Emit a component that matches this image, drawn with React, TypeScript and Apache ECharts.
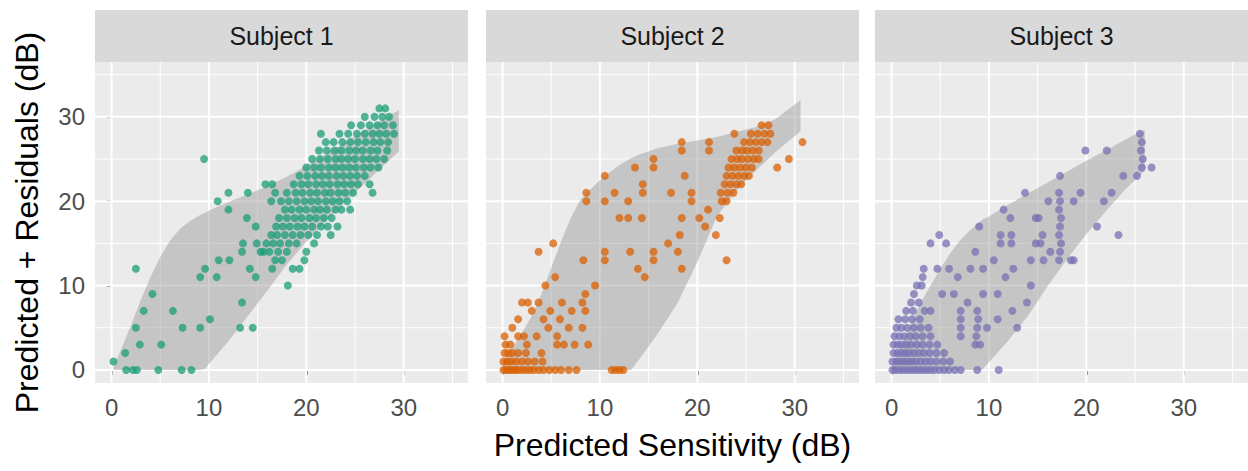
import React, { useEffect, useRef } from "react";
import * as echarts from "echarts";

// ---------- DATA ----------
const SUBJECTS = ["Subject 1", "Subject 2", "Subject 3"];
const COLORS = ["#1b9e77", "#d95f02", "#7570b3"];
const TICKS = [0, 10, 20, 30];
const MINOR_BREAKS = [5, 15, 25, 35];
const X_TITLE = "Predicted Sensitivity (dB)";
const Y_TITLE = "Predicted + Residuals (dB)";

// prediction band per subject: x, lower, upper
const BAND1_X = [0.2, 1, 2, 3, 4, 5, 6, 7, 8, 9, 9.6, 10, 12, 14, 16, 18, 20, 22, 24, 26, 28, 29.5];
const BAND1_HI = [0.3, 2.5, 5.3, 8.3, 11, 13.4, 15.3, 16.7, 17.6, 18.3, 18.6, 18.9, 19.9, 20.8, 21.8, 22.9, 24.2, 25.6, 27, 28.4, 29.8, 30.8];
const BAND1_LO = [0, 0, 0, 0, 0, 0, 0, 0, 0, 0, 0.1, 0.7, 3.4, 6.4, 9.4, 12.5, 15.2, 17.6, 19.9, 22.1, 24.3, 25.9];

const BAND2_X = [0, 1, 2, 3, 4, 5, 6, 7, 8, 10, 12, 13.2, 14, 16, 18, 20, 22, 24, 26, 28, 30.6];
const BAND2_HI = [1.0, 2.6, 4.4, 6.4, 9.0, 12.1, 15.2, 18.0, 20.2, 22.5, 24.3, 25.1, 25.5, 26.3, 26.8, 27.2, 27.6, 28.2, 28.8, 29.7, 32.0];
const BAND2_LO = [0, 0, 0, 0, 0, 0, 0, 0, 0, 0, 0, 0, 1.2, 4.4, 8.0, 12.8, 18.2, 21.2, 23.6, 25.8, 28.3];

const BAND3_X = [0, 1, 2, 3, 4, 5, 6, 7, 8, 9.3, 10, 12, 14, 16, 18, 20, 22, 24, 26];
const BAND3_HI = [0.5, 3, 5.5, 8, 10, 12, 13.8, 15.3, 16.5, 17.8, 18.2, 19.6, 20.9, 22.2, 23.5, 24.8, 26.0, 27.3, 28.5];
const BAND3_LO = [0, 0, 0, 0, 0, 0, 0, 0, 0, 0, 0.9, 3.5, 6.4, 9.9, 13.1, 16.1, 18.8, 21.4, 23.6];

const S1_POINTS = [
  [0.2, 1], [1.4, 2], [1.5, 0], [2.2, 0], [2.6, 0], [4.8, 0], [7.2, 0], [8.2, 0], [2.9, 3], [5.1, 3],
  [2.5, 5], [7.3, 5], [9.1, 5], [10.1, 6], [3.3, 7], [6.3, 7], [4.2, 9], [2.5, 12],
  [13.2, 5], [14.5, 5], [13.4, 8], [9.1, 11], [9.6, 12], [10.8, 11], [11, 13], [12.1, 13], [13.4, 14],
  [14.2, 12], [14.8, 11], [13.5, 15], [14.9, 15], [15.3, 14], [18.1, 10], [18.6, 12], [20, 14],
  [10.9, 20], [12, 21], [12, 19], [14, 21], [13.9, 18], [14.8, 17], [15.8, 22], [9.5, 25],
  [21.5, 28], [28.3, 26], [27.5, 31], [28.9, 29],
  [16.5, 12], [19.3, 12],
  [16.8, 13], [17.5, 13], [19.8, 13],
  [15.6, 14], [16.2, 14], [17.1, 14], [18.0, 14],
  [15.9, 15], [16.6, 15], [17.3, 15], [18.2, 15], [19.0, 15], [20.8, 15],
  [16.4, 16], [17.0, 16], [17.8, 16], [18.6, 16], [19.4, 16], [20.2, 16], [21.1, 16], [22.5, 16],
  [16.9, 17], [17.6, 17], [18.3, 17], [19.1, 17], [19.8, 17], [20.6, 17], [21.5, 17], [22.2, 17], [23.2, 17],
  [17.2, 18], [18.0, 18], [18.8, 18], [19.5, 18], [20.3, 18], [21.0, 18], [21.8, 18], [22.6, 18],
  [17.8, 19], [18.5, 19], [19.3, 19], [20.0, 19], [20.8, 19], [21.4, 19], [22.1, 19], [23.0, 19], [23.6, 19], [24.5, 19],
  [16.4, 20], [17.4, 20], [18.2, 20], [19.0, 20], [19.8, 20], [20.5, 20], [21.2, 20], [22.0, 20], [22.7, 20], [23.4, 20], [24.2, 20],
  [16.8, 21], [18.0, 21], [18.9, 21], [19.6, 21], [20.4, 21], [21.1, 21], [21.9, 21], [22.5, 21], [23.3, 21], [24.0, 21], [24.8, 21], [26.8, 21],
  [16.5, 22], [18.7, 22], [19.5, 22], [20.2, 22], [21.0, 22], [21.7, 22], [22.4, 22], [23.2, 22], [23.9, 22], [24.6, 22], [25.3, 22], [26.5, 22],
  [19.3, 23], [20.1, 23], [20.9, 23], [21.6, 23], [22.3, 23], [23.1, 23], [23.8, 23], [24.5, 23], [25.2, 23], [26.0, 23],
  [20.0, 24], [20.8, 24], [21.5, 24], [22.3, 24], [23.0, 24], [23.7, 24], [24.4, 24], [25.1, 24], [25.9, 24], [26.6, 24], [27.4, 24],
  [20.6, 25], [21.4, 25], [22.2, 25], [23.0, 25], [23.6, 25], [24.3, 25], [25.0, 25], [25.8, 25], [26.5, 25], [27.2, 25], [28.0, 25],
  [21.3, 26], [22.1, 26], [22.9, 26], [23.6, 26], [24.4, 26], [25.1, 26], [25.8, 26], [26.6, 26], [27.3, 26],
  [22.0, 27], [22.8, 27], [23.7, 27], [24.5, 27], [25.3, 27], [26.1, 27], [26.9, 27], [27.6, 27], [28.4, 27],
  [23.4, 28], [24.3, 28], [25.2, 28], [26.0, 28], [26.8, 28], [27.5, 28], [28.2, 28], [29.0, 28],
  [24.6, 29], [25.6, 29], [26.5, 29], [27.3, 29], [28.0, 29],
  [26.0, 30], [27.0, 30], [27.8, 30], [28.5, 30],
  [28.1, 31],
];

const S2_POINTS = [
  [30.8, 27], [29.4, 25], [28.2, 24], [23, 13], [23.8, 28], [3.7, 14], [5.2, 15], [10.5, 23], [8.6, 21], [8.6, 20],
  [10.5, 20], [11.5, 21], [12.9, 20], [13.6, 24], [15.5, 25], [15.5, 24], [18.4, 27], [18.4, 26], [21.2, 27], [21.2, 26],
  [18.7, 23], [14.4, 22], [14.4, 21], [17.3, 21], [19.4, 21], [19.4, 20], [12, 18], [12.9, 18], [14.3, 18], [18.4, 18],
  [20.2, 18], [22.3, 18], [18.2, 16], [21.1, 19], [20.8, 17], [21.9, 16], [17, 15], [18, 14], [18.4, 12], [15.5, 14],
  [15.5, 13], [13.1, 14], [13.9, 12], [14.6, 11], [10.5, 14], [10.5, 13], [8.3, 13], [9.5, 10],
  [5.4, 11], [4.4, 10], [8.5, 9], [8.2, 8], [2, 8], [2.6, 8], [3.7, 8], [6.1, 8], [3.0, 7], [4.9, 7], [7.1, 7], [8.5, 7],
  [1.6, 6], [4.2, 6], [5.9, 6], [1.0, 5], [4.7, 5], [6.8, 5], [8.2, 5], [1.6, 4], [2.2, 4], [3.5, 4], [5.6, 4],
  [0.3, 3], [2.5, 3], [5.6, 3], [6.3, 3], [7.4, 3], [8.8, 3], [1, 2], [4.0, 2], [2, 1],
  [0.1, 0], [0.4, 0], [0.7, 0], [1.0, 0], [1.3, 0], [1.6, 0], [2.0, 0], [2.4, 0], [2.8, 0], [3.2, 0], [3.7, 0],
  [4.2, 0], [4.8, 0], [5.4, 0], [6.0, 0], [6.8, 0], [7.6, 0], [11.2, 0], [11.6, 0], [12.0, 0], [12.4, 0],
  [0.1, 1], [0.5, 1], [0.9, 1], [1.4, 1], [2.6, 1], [3.3, 1], [4.1, 1],
  [0.2, 2], [0.6, 2], [1.6, 2], [2.4, 2], [0.8, 3], [0.2, 4],
  [22.5, 20], [23.0, 20],
  [22.4, 21], [23.1, 21], [23.7, 21],
  [22.8, 22], [23.4, 22], [24.0, 22], [24.5, 22],
  [23.0, 23], [23.6, 23], [24.2, 23], [24.8, 23], [25.3, 23],
  [23.2, 24], [23.8, 24], [24.4, 24], [25.0, 24], [25.6, 24],
  [23.5, 25], [24.1, 25], [24.6, 25], [25.2, 25], [25.8, 25], [26.3, 25],
  [24.0, 26], [24.6, 26], [25.1, 26], [25.7, 26], [26.3, 26],
  [24.8, 27], [25.4, 27], [26.0, 27], [26.6, 27], [27.2, 27],
  [25.5, 28], [26.2, 28], [26.9, 28], [27.5, 28],
  [26.6, 29], [27.3, 29],
];

const S3_POINTS = [
  [25.5, 28], [25.7, 27], [25.6, 26], [25.8, 25], [25.7, 24], [26.7, 24], [25.2, 23], [23.8, 23],
  [19.9, 26], [22.1, 26], [17.3, 23], [19.4, 21], [22.6, 21], [21.8, 20], [13.7, 21], [16.1, 20], [18.7, 20],
  [21.1, 17], [23.3, 16], [18.7, 13], [18.4, 13], [16.3, 14],
  [17.2, 21], [17.3, 20], [17.2, 19], [17.4, 18], [17.3, 17], [17.2, 16], [17.4, 15], [17.3, 14], [17.2, 13],
  [11.2, 16], [12.3, 16], [11.2, 15], [12.3, 15], [11.5, 19], [12.2, 18], [15.1, 18], [15.3, 15], [15.6, 13],
  [14.3, 13], [12.5, 12], [10.5, 13], [9.0, 17], [8.6, 14], [14.3, 10], [14.8, 18], [15.5, 16], [14.8, 15],
  [4.9, 16], [4.0, 15], [5.6, 15], [8.1, 12], [6.8, 11], [4.7, 12], [5.9, 12], [9.4, 12], [11.7, 11],
  [13.9, 8], [12.9, 5], [10.9, 9], [9.4, 9], [7.8, 8], [6.4, 9], [5.2, 9], [4.0, 7], [7.1, 7], [8.8, 7],
  [10.9, 6], [12.4, 7], [9.8, 5], [9.1, 3], [7.1, 6], [7.1, 4], [7.1, 5], [8.6, 3], [8.7, 4], [8.8, 5], [8.9, 6],
  [8.8, 0], [11.0, 0], [1.5, 7], [2.3, 9], [3.2, 11], [3.3, 12],
  [0.1, 0], [0.4, 0], [0.8, 0], [1.2, 0], [1.6, 0], [2.0, 0], [2.4, 0], [2.8, 0], [3.2, 0], [3.6, 0], [4.0, 0],
  [4.4, 0], [4.9, 0], [5.4, 0], [5.9, 0], [6.5, 0], [7.1, 0],
  [0.1, 1], [0.5, 1], [0.9, 1], [1.3, 1], [1.7, 1], [2.1, 1], [2.5, 1], [3.0, 1], [3.5, 1], [4.0, 1], [4.6, 1], [5.3, 1], [6.0, 1],
  [0.2, 2], [0.6, 2], [1.0, 2], [1.4, 2], [1.8, 2], [2.3, 2], [2.8, 2], [3.3, 2], [3.9, 2], [4.6, 2], [5.4, 2],
  [0.2, 3], [0.6, 3], [1.0, 3], [1.5, 3], [2.0, 3], [2.6, 3], [3.2, 3], [3.9, 3], [4.7, 3],
  [0.3, 4], [0.8, 4], [1.3, 4], [1.9, 4], [2.5, 4], [3.2, 4], [4.0, 4],
  [0.5, 5], [1.0, 5], [1.6, 5], [2.3, 5], [3.0, 5], [3.8, 5],
  [0.7, 6], [1.4, 6], [2.1, 6], [2.9, 6],
  [2.2, 7], [3.4, 7], [2.0, 8], [2.8, 8], [2.6, 10], [3.1, 10],
];

// ---------- LAYOUT ----------
const PANEL_LEFT = [95, 486, 875];
const PANEL_TOP = 62;
const PANEL_W = 373;
const PANEL_H = 321;
const STRIP_TOP = 10;
const X_MIN = -1.7, X_MAX = 36.6, Y_MIN = -1.55, Y_MAX = 36.5;
const FONT = "'Liberation Sans', Arial, Helvetica, sans-serif";

const BANDS = [
  { x: BAND1_X, lo: BAND1_LO, hi: BAND1_HI },
  { x: BAND2_X, lo: BAND2_LO, hi: BAND2_HI },
  { x: BAND3_X, lo: BAND3_LO, hi: BAND3_HI },
];
const POINTS = [S1_POINTS, S2_POINTS, S3_POINTS];

function backgroundSeries(i: number) {
  const band = BANDS[i];
  return {
    type: "custom",
    xAxisIndex: i,
    yAxisIndex: i,
    silent: true,
    z: 1,
    data: [[0, 0]],
    renderItem: (params: any, api: any) => {
      const cs = params.coordSys;
      const children: any[] = [];
      const vline = (v: number, w: number) => {
        const p = api.coord([v, 0]);
        children.push({ type: "line", shape: { x1: p[0], y1: cs.y, x2: p[0], y2: cs.y + cs.height }, style: { stroke: "#ffffff", lineWidth: w } });
      };
      const hline = (v: number, w: number) => {
        const p = api.coord([0, v]);
        children.push({ type: "line", shape: { x1: cs.x, y1: p[1], x2: cs.x + cs.width, y2: p[1] }, style: { stroke: "#ffffff", lineWidth: w } });
      };
      MINOR_BREAKS.forEach((v) => { vline(v, 1); hline(v, 1); });
      TICKS.forEach((v) => { vline(v, 2); hline(v, 2); });
      const pts: number[][] = [];
      band.x.forEach((x, k) => pts.push(api.coord([x, band.hi[k]])));
      for (let k = band.x.length - 1; k >= 0; k--) pts.push(api.coord([band.x[k], band.lo[k]]));
      children.push({ type: "polygon", shape: { points: pts }, style: { fill: "rgba(150,150,150,0.45)" } });
      return { type: "group", children };
    },
  };
}

export default function App() {
  const ref = useRef<HTMLDivElement>(null);
  useEffect(() => {
    if (!ref.current) return;
    const chart = echarts.init(ref.current, null, { renderer: "svg" });
    const grids = PANEL_LEFT.map((l) => ({
      left: l, top: PANEL_TOP, width: PANEL_W, height: PANEL_H,
      show: true, backgroundColor: "#ebebeb", borderWidth: 0, containLabel: false,
    }));
    const xAxes = PANEL_LEFT.map((_, i) => ({
      type: "value", gridIndex: i, min: X_MIN, max: X_MAX,
      axisLine: { show: false },
      axisTick: { show: true, customValues: TICKS, length: 5, lineStyle: { color: "#333333", width: 1.5 } },
      axisLabel: { show: true, customValues: TICKS, color: "#4d4d4d", fontSize: 24, fontFamily: FONT, margin: 12 },
      splitLine: { show: false },
      name: i === 1 ? X_TITLE : "",
      nameLocation: "middle",
      nameGap: 46,
      nameTextStyle: { color: "#000000", fontSize: 32, fontFamily: FONT },
    }));
    const yAxes = PANEL_LEFT.map((_, i) => ({
      type: "value", gridIndex: i, min: Y_MIN, max: Y_MAX,
      axisLine: { show: false },
      axisTick: { show: i === 0, customValues: TICKS, length: 5, lineStyle: { color: "#333333", width: 1.5 } },
      axisLabel: { show: i === 0, customValues: TICKS, color: "#4d4d4d", fontSize: 24, fontFamily: FONT, margin: 10 },
      splitLine: { show: false },
      name: i === 0 ? Y_TITLE : "",
      nameLocation: "middle",
      nameGap: 52,
      nameTextStyle: { color: "#000000", fontSize: 32, fontFamily: FONT },
    }));
    const series: any[] = [];
    PANEL_LEFT.forEach((_, i) => {
      series.push(backgroundSeries(i));
      series.push({
        type: "scatter", xAxisIndex: i, yAxisIndex: i, z: 3,
        symbol: "circle", symbolSize: 8,
        itemStyle: { color: COLORS[i], opacity: 0.75 },
        data: POINTS[i],
        silent: true,
      });
    });
    const graphics: any[] = [];
    PANEL_LEFT.forEach((l, i) => {
      graphics.push({ type: "rect", shape: { x: l, y: STRIP_TOP, width: PANEL_W, height: PANEL_TOP - STRIP_TOP }, style: { fill: "#d9d9d9" }, silent: true });
      graphics.push({
        type: "text", x: l + PANEL_W / 2, y: (STRIP_TOP + PANEL_TOP) / 2,
        style: { text: SUBJECTS[i], fill: "#1a1a1a", font: `25px ${FONT}`, align: "center", verticalAlign: "middle", textAlign: "center", textVerticalAlign: "middle" },
        silent: true,
      });
    });
    chart.setOption({
      animation: false,
      backgroundColor: "#ffffff",
      grid: grids,
      xAxis: xAxes,
      yAxis: yAxes,
      series,
      graphic: graphics,
    });
    return () => chart.dispose();
  }, []);
  return <div ref={ref} style={{ position: "absolute", left: 0, top: 0, width: 1248, height: 471 }} />;
}
